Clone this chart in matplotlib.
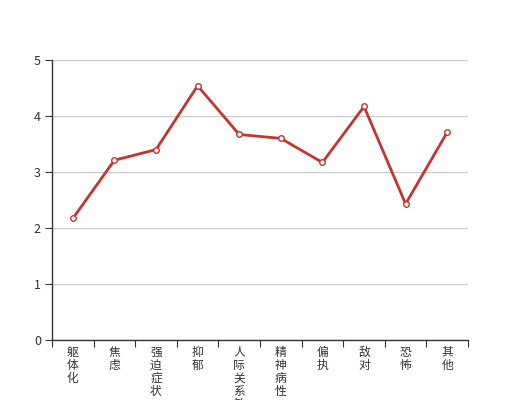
import matplotlib
matplotlib.use("Agg")
import matplotlib.pyplot as plt

plt.rcParams['font.family'] = ['Noto Sans CJK SC', 'DejaVu Sans']

categories = ['躯体化', '焦虑', '强迫症状', '抑郁', '人际关系敏感', '精神病性', '偏执', '敌对', '恐怖', '其他']
values = [2.17, 3.21, 3.40, 4.54, 3.67, 3.60, 3.17, 4.17, 2.43, 3.71]
yticks = [0, 1, 2, 3, 4, 5]

W, H = 520, 400
fig = plt.figure(figsize=(W / 100, H / 100), dpi=100)
ax = fig.add_axes([52 / W, 1 - 340 / H, (468 - 52) / W, (340 - 60) / H])

n = len(categories)
x = list(range(n))
ax.plot(x, values, color='#c23531', lw=2, marker='o', ms=4, mfc='white',
        mec='#c23531', mew=1, zorder=3, clip_on=False)

ax.set_xlim(-0.5, n - 0.5)
ax.set_ylim(0, 5)
ax.set_yticks(yticks)
ax.set_yticklabels([str(t) for t in yticks])
ax.yaxis.grid(True, color='#cccccc', lw=1)
ax.set_axisbelow(True)

for s in ['top', 'right']:
    ax.spines[s].set_visible(False)
for s in ['left', 'bottom']:
    ax.spines[s].set_color('#333333')
    ax.spines[s].set_linewidth(1)

# x ticks at category boundaries
ax.set_xticks([i - 0.5 for i in range(n + 1)])
ax.set_xticklabels([])
ax.tick_params(axis='x', length=5, color='#333333', direction='out')
ax.tick_params(axis='y', length=5, color='#333333', direction='out',
               labelsize=9, labelcolor='#333333', pad=3)

for i, c in enumerate(categories):
    ax.text(i, -0.1, '\n'.join(c), transform=ax.transData, ha='center', va='top',
            fontsize=8.5, color='#333333', linespacing=1.0, clip_on=False)

fig.savefig('out.png', dpi=100)
